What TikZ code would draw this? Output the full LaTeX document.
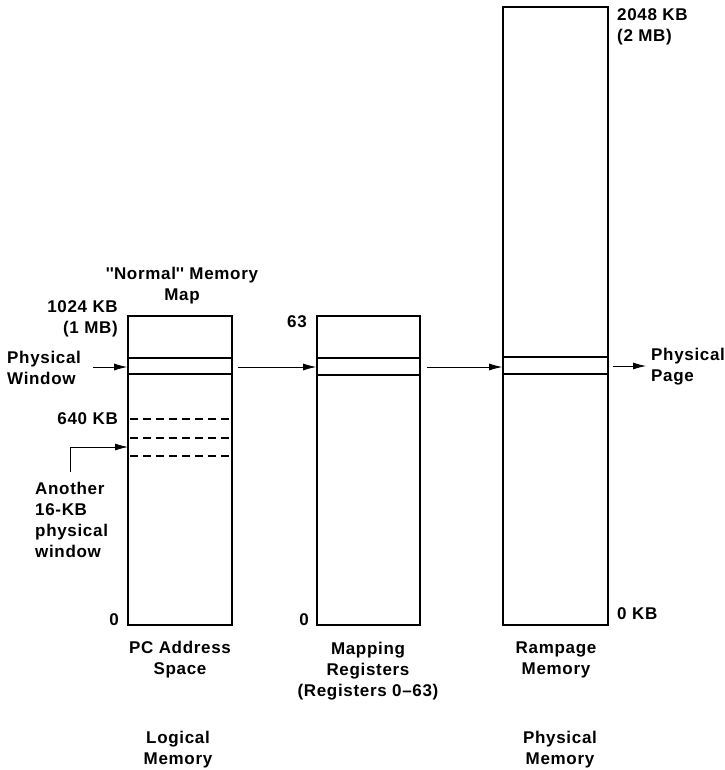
\documentclass[tikz,border=0pt]{standalone}
\usepackage{fontspec}
\setmainfont{Liberation Sans}[BoldFont={* Bold},LetterSpace=4]
\usetikzlibrary{arrows.meta}
\begin{document}
\begin{tikzpicture}[x=1pt,y=-1pt,
  mem/.style={draw,line width=1.6pt,rectangle,inner sep=0pt},
  win/.style={draw,line width=1.6pt,rectangle,inner sep=0pt},
  arr/.style={line width=0.8pt,-{Latex[length=13pt,width=7pt]}},
  lbl/.style={font=\bfseries\fontsize{17}{21}\selectfont,inner sep=0pt},
  dsh/.style={line width=1.2pt,dash pattern=on 8pt off 5pt}]
\useasboundingbox (0,0) rectangle (724,770);
% boxes
\node[mem,minimum width=104pt,minimum height=309pt] (b1) at (180,470.5) {};
\node[mem,minimum width=103pt,minimum height=309pt] (b2) at (368.5,470.5) {};
\node[mem,minimum width=105pt,minimum height=618pt] (b3) at (555.5,316) {};
% windows
\node[win,minimum width=104pt,minimum height=16pt] (w1) at (180,366) {};
\node[win,minimum width=103pt,minimum height=17pt] (w2) at (368.5,366.5) {};
\node[win,minimum width=105pt,minimum height=17pt] (w3) at (555.5,365.5) {};
% dashed lines
\draw[dsh] ([xshift=3pt]b1.west |- 0,419) -- (b1.east |- 0,419);
\draw[dsh] ([xshift=3pt]b1.west |- 0,438) -- (b1.east |- 0,438);
\draw[dsh] ([xshift=3pt]b1.west |- 0,456) -- (b1.east |- 0,456);
% arrows
\coordinate (pwin) at (93,367);
\coordinate (ppage) at (646,366);
\coordinate (anot) at (70,472);
\coordinate (anotend) at (128,447);
\draw[arr] (pwin) -- (w1.west |- pwin);
\draw[arr] ([xshift=5pt]w1.east |- 0,367) -- (w2.west |- 0,367);
\draw[arr] ([xshift=6pt]w2.east |- 0,367) -- (w3.west |- 0,367);
\draw[arr] ([xshift=4pt]w3.east |- ppage) -- (ppage);
\draw[arr] (anot) |- (anotend);
% labels
\node[lbl,align=center] (normal) at (182,286) {\textquotesingle\textquotesingle Normal\textquotesingle\textquotesingle\ Memory\\Map};
\node[lbl,align=right,anchor=east] (k1024) at (118,319) {1024 KB\\(1 MB)};
\node[lbl,align=left,anchor=west] (pw) at (7,368) {Physical\\Window};
\node[lbl,anchor=east] (k640) at (118,419) {640 KB};
\node[lbl,align=left,anchor=north west] (another) at (35,482) {Another\\16-KB\\physical\\window};
\node[lbl,anchor=east] (z1) at (119,620) {0};
\node[lbl,anchor=east] (r63) at (307,322) {63};
\node[lbl,anchor=east] (z2) at (309,620) {0};
\node[lbl,align=left,anchor=west] (k2048) at (617,27) {2048 KB\\(2 MB)};
\node[lbl,align=left,anchor=west] (pp) at (651,367) {Physical\\Page};
\node[lbl,anchor=west] (k0) at (617,614) {0 KB};
\node[lbl,align=center] (pcas) at (180,660) {PC Address\\Space};
\node[lbl,align=center] (mapr) at (368,671) {Mapping\\Registers\\(Registers 0--63)};
\node[lbl,align=center] (ramp) at (556,660) {Rampage\\Memory};
\node[lbl,align=center] (logm) at (178,750) {Logical\\Memory};
\node[lbl,align=center] (phym) at (560,750) {Physical\\Memory};
\end{tikzpicture}
\end{document}
